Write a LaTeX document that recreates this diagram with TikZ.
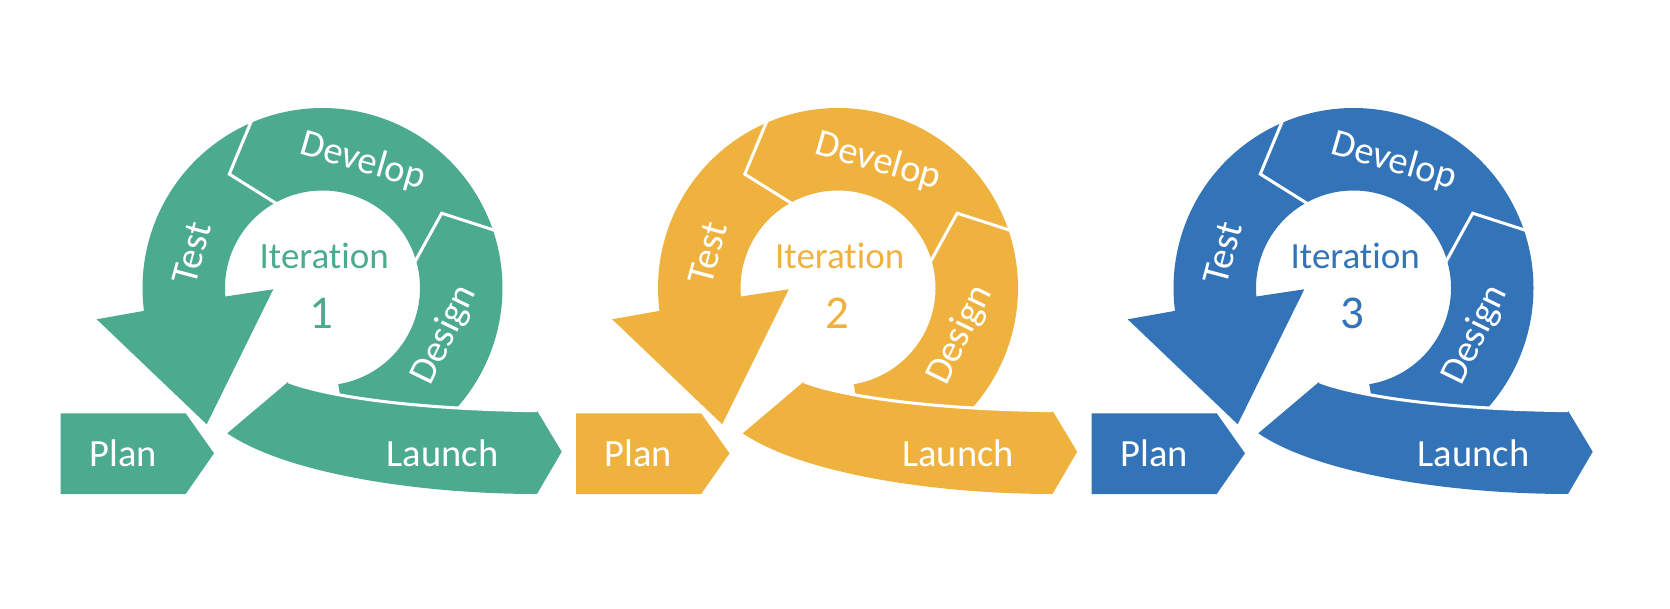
\documentclass[tikz,border=0pt]{standalone}
\usepackage{fontspec}
\setmainfont{Carlito}[Ligatures={NoCommon,NoRare}]
\definecolor{cg}{HTML}{4CAA8F}
\definecolor{co}{HTML}{F0B23F}
\definecolor{cb}{HTML}{3374B8}
\tikzset{
  lbl/.style={text=white, font=\fontsize{38.5}{38.5}\selectfont, inner sep=0pt},
  ctr/.style={font=\fontsize{37}{37}\selectfont, inner sep=0pt, anchor=base},
  bignum/.style={font=\fontsize{47}{47}\selectfont, inner sep=0pt, anchor=base},
  gap/.style={draw=white, line width=3pt},
}
\begin{document}
\begin{tikzpicture}[x=1pt,y=1pt]
\useasboundingbox (0,0) rectangle (1670,608);
\foreach \i/\col/\num in {0/cg/1,1/co/2,2/cb/3}{
\begin{scope}[shift={({322.5+515.5*\i},320)}]
  % Design
  \fill[\col] (-80.7:180pt) arc[start angle=-80.7, end angle=18.2, radius=180pt]
      -- (32.1:140.7pt) -- (14.6:97.5pt)
      arc[start angle=14.6, end angle=-80.7, radius=97.5pt] -- cycle;
  % Develop
  \fill[\col] (18.2:180pt) arc[start angle=18.2, end angle=112.6, radius=180pt]
      -- (129.3:147.2pt) -- (117.9:97.5pt)
      arc[start angle=117.9, end angle=14.6, radius=97.5pt]
      -- (32.1:140.7pt) -- cycle;
  % Test
  \fill[\col] (112.6:180pt) arc[start angle=112.6, end angle=187.3, radius=180pt]
      -- (-225.8,-31.3) -- (-115.8,-136.3) -- (-49.2,-1.3)
      -- (185:97.5pt) arc[start angle=185, end angle=117.9, radius=97.5pt]
      -- (129.3:147.2pt) -- cycle;
  % Plan
  \fill[\col] (-261.8,-125.3) -- (-136.8,-125.3) -- (-108.5,-165.3)
      -- (-136.8,-206) -- (-261.8,-206) -- cycle;
  % Launch
  \fill[\col] (-34.2,-93.7) .. controls (-2.5,-106) and (77.5,-121) .. (214.5,-122.7)
      -- (239.2,-163.7) -- (214.5,-206)
      .. controls (97.5,-206) and (-35.5,-186) .. (-95.2,-145.3) -- cycle;
  % white separations
  \draw[gap] (-34.2,-93.7) .. controls (-2.5,-106) and (77.5,-121) .. (214.5,-122.7);
  \draw[gap] (112.6:183pt) -- (129.3:147.2pt) -- (117.9:94pt);
  \draw[gap] (18.2:183pt) -- (32.1:140.7pt) -- (14.6:94pt);
  % texts
  \node[ctr, text=\col] (iter\i) at (1.7,19.7) {Iteration};
  \node[bignum, text=\col] (num\i) at (-0.8,-40.3) {\num};
  \node[lbl, anchor=base] (plan\i) at (-199.5,-178.7) {Plan};
  \node[lbl, anchor=base] (launch\i) at (120,-178.7) {Launch};
  \node[lbl, rotate=-16] (develop\i) at (72.3:132.5pt) {Develop};
  \node[lbl, rotate=75] (test\i) at (165:135pt) {Test};
  \node[lbl, rotate=64] (design\i) at (-21:131pt) {Design};
\end{scope}
}
\end{tikzpicture}
\end{document}
